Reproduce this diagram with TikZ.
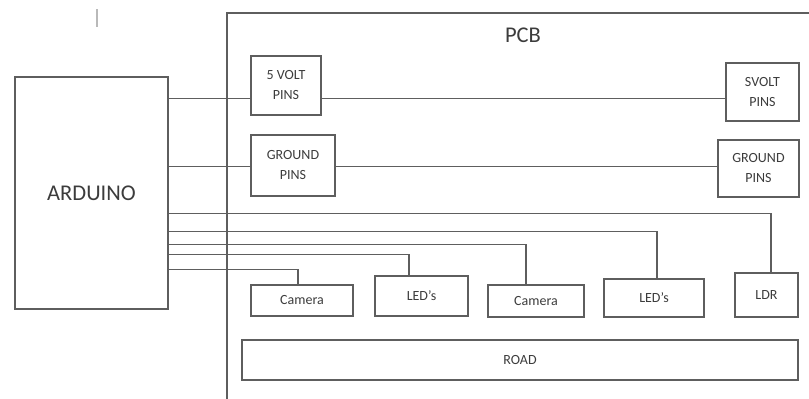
\documentclass[tikz,border=0pt]{standalone}
\usepackage{fontspec}
\setmainfont{Carlito}
\usepackage{xcolor}
\usepackage{tikz}
\usetikzlibrary{positioning,calc}
\definecolor{ink}{HTML}{3C3C3C}
\definecolor{wireC}{HTML}{5E5E5E}
\tikzset{
  box/.style={draw=wireC, line width=1.1pt, align=center, inner sep=0pt, font=\fontsize{14}{20}\selectfont, text=ink},
  wire/.style={draw=wireC, line width=1.1pt},
}
\begin{document}
\begin{tikzpicture}[x=1pt, y=-1pt,
  big/.style={font=\fontsize{22.5}{25}\selectfont, text=ink}]
\useasboundingbox (0,0) rectangle (809,399);
\draw[gray!55, line width=1.5pt] (97,9) -- (97,27);
\draw[wire] (809,13) -| (227,399);
\node[big] (pcb) at (523,35) {PCB};
\node[box, big, minimum width=153pt, minimum height=232pt] (ard) at (91.5,193) {ARDUINO};
\node[box, minimum width=70pt, minimum height=59pt] (v5a) at (286,85.5) {5 VOLT\\PINS};
\node[box, minimum width=73pt, minimum height=58pt] (v5b) at (762.5,92) {SVOLT\\PINS};
\node[box, minimum width=84pt, minimum height=61pt] (gnda) at (293,165.5) {GROUND\\PINS};
\node[box, minimum width=81pt, minimum height=57pt] (gndb) at (758.5,168.5) {GROUND\\PINS};
\node[box, minimum width=102pt, minimum height=31pt] (cam1) at (302,300.5) {Camera};
\node[box, minimum width=93pt, minimum height=40pt] (led1) at (421.5,296) {LED's};
\node[box, minimum width=96pt, minimum height=32pt] (cam2) at (536,301) {Camera};
\node[box, minimum width=100pt, minimum height=38pt] (led2) at (654,298) {LED's};
\node[box, minimum width=63pt, minimum height=44pt] (ldr) at (766.5,295) {LDR};
\node[box, minimum width=556pt, minimum height=40pt] (road) at (520,360) {ROAD};
\path (ard.north east) ++(0,22) coordinate (p5) (ard.north east) ++(0,90) coordinate (pg);
\path (ard.north east) ++(0,137) coordinate (w1) (ard.north east) ++(0,155) coordinate (w2)
  (ard.north east) ++(0,168) coordinate (w3) (ard.north east) ++(0,178) coordinate (w4)
  (ard.north east) ++(0,193) coordinate (w5);
\draw[wire] (p5) -- (p5 -| v5a.west); \draw[wire] (v5a.east |- p5) -- (p5 -| v5b.west);
\draw[wire] (pg) -- (pg -| gnda.west); \draw[wire] (gnda.east |- pg) -- (pg -| gndb.west);
\draw[wire] (w1) -| ([xshift=4.5pt]ldr.north);
\draw[wire] (w2) -| ([xshift=3pt]led2.north);
\draw[wire] (w3) -| ([xshift=-10pt]cam2.north);
\draw[wire] (w4) -| ([xshift=-12.5pt]led1.north);
\draw[wire] (w5) -| ([xshift=-4pt]cam1.north);
\end{tikzpicture}
\end{document}
